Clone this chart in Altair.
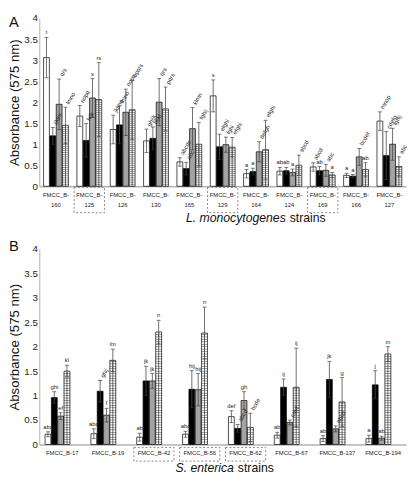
import altair as alt
import pandas as pd

FONT = "Liberation Sans Narrow, Arial Narrow, Liberation Sans, Arial, sans-serif"
SANS = "Liberation Sans, Arial, sans-serif"
SERIES = ["open", "solid", "hatched", "striped"]
FILLS = ["#ffffff", "#000000", "#a3a3a3", "#ffffff"]

# ---------------- Panel A : L. monocytogenes ----------------
a_strains = ["FMCC_B-160", "FMCC_B-125", "FMCC_B-126", "FMCC_B-130", "FMCC_B-165", "FMCC_B-129",
             "FMCC_B-164", "FMCC_B-124", "FMCC_B-169", "FMCC_B-166", "FMCC_B-127"]
a_boxed = ["FMCC_B-125", "FMCC_B-129", "FMCC_B-169"]
a_open = [3.06, 1.67, 1.35, 1.08, 0.58, 2.15, 0.30, 0.36, 0.46, 0.26, 1.55]
a_open_err = [0.48, 0.25, 0.34, 0.28, 0.10, 0.38, 0.10, 0.09, 0.10, 0.05, 0.22]
a_solid = [1.20, 1.09, 1.46, 1.14, 0.42, 0.94, 0.35, 0.37, 0.37, 0.24, 0.73]
a_solid_err = [0.20, 0.40, 0.45, 0.27, 0.15, 0.30, 0.08, 0.08, 0.10, 0.04, 0.57]
a_hatch = [1.95, 2.10, 1.76, 2.00, 1.37, 0.99, 0.82, 0.33, 0.38, 0.70, 1.00]
a_hatch_err = [0.60, 0.46, 0.55, 0.56, 0.50, 0.18, 0.24, 0.08, 0.14, 0.20, 0.38]
a_stripe = [1.45, 2.06, 1.82, 1.84, 1.00, 0.93, 0.87, 0.50, 0.27, 0.40, 0.47]
a_stripe_err = [0.43, 0.88, 0.70, 0.52, 0.52, 0.23, 0.70, 0.24, 0.06, 0.16, 0.23]
a_open_lab = ["t", "nopq", "jklmn", "ghijk", "abcde", "s", "a", "ab", "abcd", "a", "mnop"]
a_solid_lab = ["ijklm", "hijk", "lmno", "hijkl", "abc", "efghi", "a", "ab", "ab", "a", "cdefg"]
a_hatch_lab = ["qrs", "s", "nopq", "qrs", "klmn", "fghi", "defgh", "a", "abc", "bcdef", "fghij"]
a_stripe_lab = ["lmno", "rs", "opqrs", "pqrs", "fghij", "efghi", "efghi", "abcd", "a", "ab", "abc"]

# ---------------- Panel B : S. enterica ----------------
b_strains = ["FMCC_B-17", "FMCC_B-19", "FMCC_B-42", "FMCC_B-56", "FMCC_B-62", "FMCC_B-67",
             "FMCC_B-137", "FMCC_B-194"]
b_boxed = ["FMCC_B-42", "FMCC_B-56", "FMCC_B-62"]
b_open = [0.21, 0.22, 0.15, 0.21, 0.57, 0.19, 0.12, 0.12]
b_open_err = [0.05, 0.10, 0.08, 0.06, 0.12, 0.06, 0.06, 0.07]
b_solid = [0.96, 1.09, 1.30, 1.13, 0.33, 1.17, 1.33, 1.22]
b_solid_err = [0.12, 0.22, 0.30, 0.38, 0.08, 0.17, 0.37, 0.29]
b_hatch = [0.58, 0.60, 1.30, 1.12, 0.90, 0.45, 0.32, 0.13]
b_hatch_err = [0.07, 0.14, 0.15, 0.33, 0.18, 0.05, 0.06, 0.04]
b_stripe = [1.50, 1.72, 2.30, 2.28, 0.35, 1.17, 0.87, 1.85]
b_stripe_err = [0.12, 0.23, 0.24, 0.53, 0.29, 0.80, 0.50, 0.15]
b_open_lab = ["abc", "abc", "ab", "abc", "def", "ab", "ab", "a"]
b_solid_lab = ["ghi", "ghij", "jk", "hij", "abcd", "ij", "jk", "j"]
b_hatch_lab = ["ef", "f", "jk", "hij", "gh", "cdef", "abcd", "ab"]
b_stripe_lab = ["kl", "lm", "n", "n", "bcde", "ij", "g", "m"]

Y_TICKS = [0, 0.5, 1, 1.5, 2, 2.5, 3, 3.5, 4]


def make_df(strains, vals, errs, labs):
    rows = []
    for s, v, e, l in zip(SERIES, vals, errs, labs):
        for i, st in enumerate(strains):
            rows.append(dict(strain=st, series=s, value=v[i], err=e[i], lab=l[i]))
    df = pd.DataFrame(rows)
    df["lo"] = (df["value"] - df["err"]).clip(lower=0)
    df["hi"] = df["value"] + df["err"]
    df["zero"] = 0.0
    return df


def panel(df, order, boxed, W, H, pad_in, off_pad, bar_w, box_w, box_y, letter, letter_y,
          t_it, t_rest, t_x, t_y, t_size, label_expr, label_lh, label_pad, rot_len):
    xs = alt.Scale(domain=order, paddingInner=pad_in, paddingOuter=pad_in / 2)
    XAX = alt.Axis(title=None, labelExpr=label_expr, labelAngle=0, labelFont=FONT,
                   labelFontSize=6, labelColor="#222", labelLineHeight=label_lh,
                   labelPadding=label_pad, ticks=False, domainColor="#8a8a8a", domainWidth=1)
    X = alt.X("strain:N", scale=xs, sort=order, axis=XAX)
    XO = alt.XOffset("series:N", sort=SERIES,
                     scale=alt.Scale(domain=SERIES, paddingInner=off_pad, paddingOuter=off_pad / 2))
    ys = alt.Scale(domain=[0, 4], nice=False, zero=True)
    YAX = alt.Axis(title="Absorbance (575 nm)", values=Y_TICKS, format="~g", grid=False,
                   labelFont=FONT, labelFontSize=10, labelColor="#222", labelPadding=2,
                   ticks=False, domainColor="#b0b0b0", titleFont=FONT, titleFontSize=13.5,
                   titleFontWeight="normal", titleColor="#111", titlePadding=2)

    def Y(f):
        return alt.Y(f, scale=ys, axis=YAX)

    base = alt.Chart(df)
    bars = base.mark_bar(stroke="#000", strokeWidth=0.7).encode(
        x=X, xOffset=XO, y=Y("value:Q"),
        fill=alt.Fill("series:N", scale=alt.Scale(domain=SERIES, range=FILLS), legend=None))
    stripes = (base.transform_filter("datum.series == 'striped'")
               .transform_calculate(s="sequence(0.05, datum.value, 0.05)")
               .transform_flatten(["s"])
               .mark_tick(orient="horizontal", thickness=0.6, size=bar_w, color="#222")
               .encode(x=X, xOffset=XO, y=Y("s:Q")))
    center = (base.transform_filter("datum.series == 'striped'")
              .mark_rule(color="#222", strokeWidth=0.7)
              .encode(x=X, xOffset=XO, y=Y("zero:Q"), y2="value:Q"))
    err = base.mark_rule(color="#4a4a4a", strokeWidth=0.8).encode(
        x=X, xOffset=XO, y=Y("lo:Q"), y2="hi:Q")
    cap_hi = base.mark_tick(orient="horizontal", thickness=0.9, size=4, color="#333").encode(
        x=X, xOffset=XO, y=Y("hi:Q"))
    cap_lo = base.mark_tick(orient="horizontal", thickness=0.9, size=4, color="#333").encode(
        x=X, xOffset=XO, y=Y("lo:Q"))
    lab_flat = (base.transform_filter(f"length(datum.lab) < {rot_len}")
                .mark_text(font=FONT, fontSize=6, color="#222", baseline="bottom", dy=-2)
                .encode(x=X, xOffset=XO, y=Y("hi:Q"), text="lab:N"))
    lab_rot = (base.transform_filter(f"length(datum.lab) >= {rot_len}")
               .mark_text(font=FONT, fontSize=6, color="#222", angle=300, align="left",
                          baseline="middle", dx=4)
               .encode(x=X, xOffset=XO, y=Y("hi:Q"), text="lab:N"))

    box_df = pd.DataFrame({"strain": boxed})
    boxes = alt.Chart(box_df).mark_bar(filled=False, stroke="#777", strokeWidth=0.9,
                                       strokeDash=[2, 2], size=box_w).encode(
        x=X, y=alt.value(H + box_y[0]), y2=alt.value(H + box_y[1]))

    let = alt.Chart(pd.DataFrame({"t": [letter]})).mark_text(
        font=SANS, fontSize=15, color="#111", align="center",
        baseline="middle").encode(text="t:N", x=alt.value(-26), y=alt.value(letter_y))
    tit = alt.Chart(pd.DataFrame({"t": [t_it]})).mark_text(
        font=SANS, fontSize=t_size, fontStyle="italic",
        color="#111", align="right", baseline="middle").encode(
        text="t:N", x=alt.value(t_x), y=alt.value(H + t_y))
    tit2 = alt.Chart(pd.DataFrame({"t": [t_rest]})).mark_text(
        font=SANS, fontSize=t_size, color="#111",
        align="left", baseline="middle").encode(
        text="t:N", x=alt.value(t_x + 4), y=alt.value(H + t_y))

    return alt.layer(bars, stripes, center, err, cap_lo, cap_hi, lab_flat, lab_rot, boxes,
                     let, tit, tit2).properties(width=W, height=H)


df_a = make_df(a_strains, [a_open, a_solid, a_hatch, a_stripe],
               [a_open_err, a_solid_err, a_hatch_err, a_stripe_err],
               [a_open_lab, a_solid_lab, a_hatch_lab, a_stripe_lab])
df_b = make_df(b_strains, [b_open, b_solid, b_hatch, b_stripe],
               [b_open_err, b_solid_err, b_hatch_err, b_stripe_err],
               [b_open_lab, b_solid_lab, b_hatch_lab, b_stripe_lab])

pA = panel(df_a, a_strains, a_boxed, 375, 172, 0.24, 0.08, 6, 31, (1, 27), "A", 4,
           "L. monocytogenes", "strains", 252, 33, 12.5,
           "[slice(datum.label, 0, 7), slice(datum.label, 7)]", 11, 5, 3)
pB = panel(df_b, b_strains, b_boxed, 375, 200, 0.24, 0.25, 7, 41, (3, 17), "B", -3,
           "S. enterica", "strains", 199, 24, 12.5, "datum.label", 8, 5, 4)

chart = alt.vconcat(pA, pB, spacing=14).properties(padding=0).configure_view(stroke=None)

chart.save("out.html", embed_options={"renderer": "svg", "actions": False})
